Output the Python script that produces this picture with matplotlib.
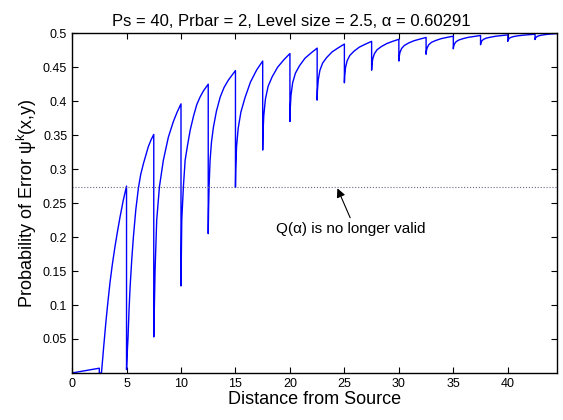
import matplotlib
matplotlib.use('Agg')
import matplotlib.pyplot as plt

plt.rcParams['font.family'] = ['Liberation Sans', 'DejaVu Sans']
plt.rcParams['mathtext.fontset'] = 'custom'
plt.rcParams['mathtext.rm'] = 'Liberation Sans'
plt.rcParams['mathtext.it'] = 'Liberation Sans'

# first levels read point by point
seg0_x = [0.0, 2.5]
seg0_y = [0.0, 0.007]
seg1_x = [2.5, 2.7, 2.9, 3.1, 3.3, 3.49, 3.7, 3.95, 4.2, 4.41, 4.7, 5.0]
seg1_y = [0.0, 0.0, 0.038, 0.074, 0.106, 0.134, 0.16, 0.187, 0.211, 0.23, 0.254, 0.275]
seg2_x = [5.0, 5.05, 5.14, 5.23, 5.33, 5.48, 5.63, 5.85, 6.09, 6.3, 6.55, 6.78, 7.0, 7.25, 7.5]
seg2_y = [0.005, 0.025, 0.053, 0.093, 0.127, 0.167, 0.2, 0.24, 0.272, 0.292, 0.308, 0.321,
          0.333, 0.343, 0.351]
seg3_x = [7.5, 7.53, 7.57, 7.62, 7.77, 8.02, 8.38, 8.84, 9.3, 9.65, 10.0]
seg3_y = [0.053, 0.075, 0.11, 0.151, 0.225, 0.274, 0.313, 0.347, 0.37, 0.384, 0.396]
seg4_x = [10.0, 10.03, 10.07, 10.22, 10.38, 10.6, 10.84, 11.15, 11.45, 11.75, 12.06, 12.5]
seg4_y = [0.128, 0.17, 0.225, 0.274, 0.313, 0.335, 0.357, 0.378, 0.395, 0.406, 0.415, 0.425]
seg5_x = [12.5, 12.53, 12.58, 12.67, 12.8, 12.98, 13.25, 13.6, 13.95, 14.35, 15.0]
seg5_y = [0.205, 0.24, 0.275, 0.313, 0.34, 0.362, 0.385, 0.406, 0.42, 0.431, 0.445]

# later levels: start of each level and the curve read at fixed offsets
level_starts = [15, 17.5, 20, 22.5, 25, 27.5, 30, 32.5, 35, 37.5, 40, 42.5]
offsets = [0, 0.025, 0.1, 0.25, 0.5, 0.875, 1.375, 1.95, 2.5]
level_y = [
    [0.273, 0.3, 0.333, 0.36, 0.384, 0.405, 0.428, 0.446, 0.459],
    [0.328, 0.352, 0.379, 0.403, 0.422, 0.436, 0.450, 0.461, 0.470],
    [0.370, 0.388, 0.409, 0.427, 0.441, 0.452, 0.463, 0.471, 0.478],
    [0.4015, 0.4155, 0.4312, 0.4452, 0.456, 0.4642, 0.4725, 0.4786, 0.484],
    [0.427, 0.4374, 0.449, 0.4593, 0.4673, 0.4734, 0.4795, 0.484, 0.488],
    [0.4456, 0.4533, 0.462, 0.4697, 0.4756, 0.4801, 0.4846, 0.4881, 0.491],
    [0.459, 0.4649, 0.4715, 0.4774, 0.4819, 0.4854, 0.4888, 0.4914, 0.4937],
    [0.469, 0.4735, 0.4786, 0.4831, 0.4866, 0.4892, 0.4919, 0.4939, 0.4956],
    [0.477, 0.4803, 0.4841, 0.4874, 0.4899, 0.4919, 0.4939, 0.4953, 0.4966],
    [0.483, 0.4855, 0.4882, 0.4907, 0.4926, 0.494, 0.4955, 0.4966, 0.4975],
    [0.488, 0.4898, 0.4918, 0.4936, 0.4949, 0.496, 0.497, 0.4978, 0.4985],
    [0.4907, 0.4923, 0.494, 0.4956, 0.4968, 0.4978, 0.4987, 0.4994, 0.5],
]

q_limit = 0.2735
title = 'Ps = 40, Prbar = 2, Level size = 2.5, α = 0.60291'

x = seg0_x + seg1_x + seg2_x + seg3_x + seg4_x + seg5_x
y = seg0_y + seg1_y + seg2_y + seg3_y + seg4_y + seg5_y
for start, row in zip(level_starts, level_y):
    x += [start + o for o in offsets]
    y += row

fig = plt.figure(figsize=(5.63, 4.2), dpi=100)
ax = fig.add_axes([0.128, 0.112, 0.861, 0.809])

ax.plot(x, y, color='#0000ff', linewidth=1.0)
ax.axhline(q_limit, color='#6a6a80', linestyle=':', linewidth=0.8)

ax.text(25.6, 0.212, 'Q(α) is no longer valid', ha='center', va='center', fontsize=11)
ax.annotate('', xy=(24.36, 0.2716), xytext=(25.53, 0.2284),
            arrowprops=dict(arrowstyle='-|>', color='black', lw=0.8,
                            mutation_scale=13, shrinkA=0, shrinkB=0))

ax.set_xlim(0, 44.5)
ax.set_ylim(0, 0.5)
ax.set_xticks([0, 5, 10, 15, 20, 25, 30, 35, 40])
ax.set_yticks([0.05, 0.1, 0.15, 0.2, 0.25, 0.3, 0.35, 0.4, 0.45, 0.5])
ax.set_yticklabels(['0.05', '0.1', '0.15', '0.2', '0.25', '0.3', '0.35', '0.4', '0.45', '0.5'])
ax.tick_params(direction='in', top=True, right=True, labelsize=9, length=4, width=0.8)
for s in ax.spines.values():
    s.set_linewidth(1.0)

ax.set_xlabel('Distance from Source', fontsize=13, labelpad=1)
ax.set_ylabel('Probability of Error ψ$^{\\mathrm{k}}$(x,y)', fontsize=13, labelpad=3)
ax.set_title(title, fontsize=12, x=0.4526, pad=5)

fig.savefig('out.png', dpi=100)
